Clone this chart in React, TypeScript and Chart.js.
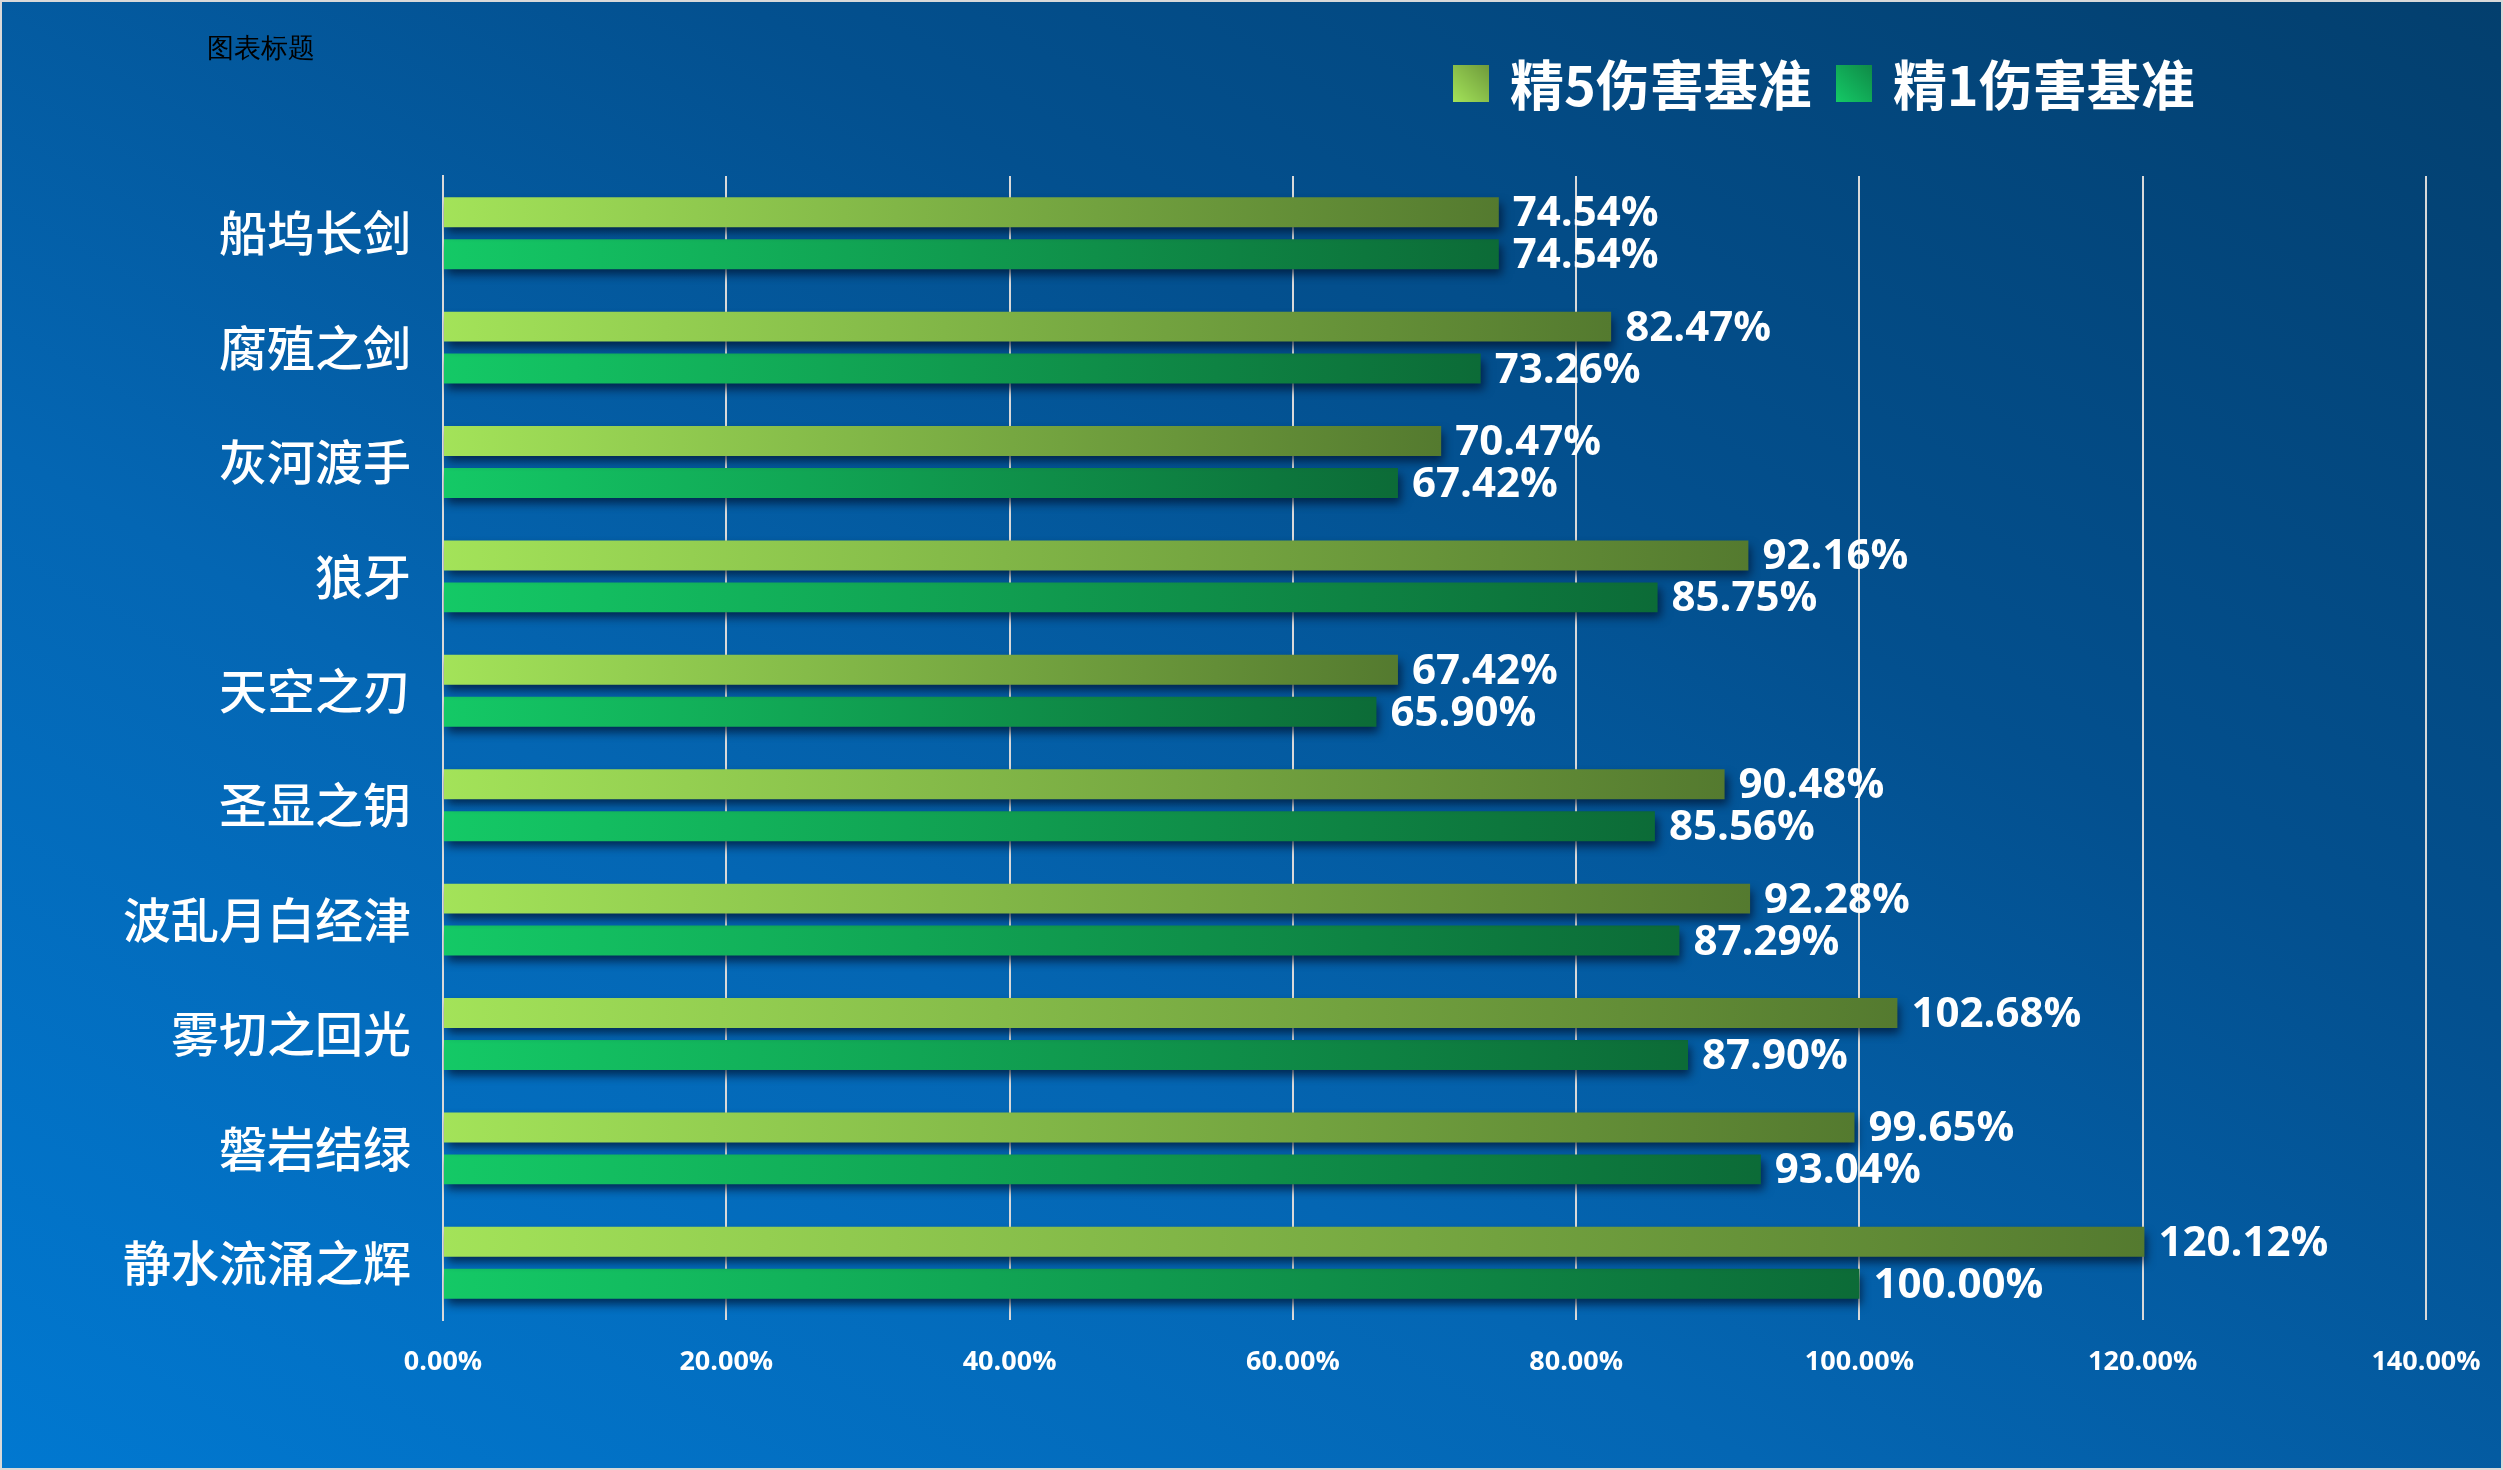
import React, { useEffect, useRef } from "react";
import { Chart, registerables } from "chart.js";

Chart.register(...registerables);

const categories = ["船坞长剑", "腐殖之剑", "灰河渡手", "狼牙", "天空之刃", "圣显之钥", "波乱月白经津", "雾切之回光", "磐岩结绿", "静水流涌之辉"];
const seriesNames = ["精5伤害基准", "精1伤害基准"];
const refine5 = [74.54, 82.47, 70.47, 92.16, 67.42, 90.48, 92.28, 102.68, 99.65, 120.12];
const refine1 = [74.54, 73.26, 67.42, 85.75, 65.9, 85.56, 87.29, 87.9, 93.04, 100.0];
const xTicks = [0, 20, 40, 60, 80, 100, 120, 140];

const W = 2503;
const H = 1470;

const gradStops = [
  ["#a3e359", "#547a2f"],
  ["#14c966", "#0c6b37"],
];

function barGradient(ctx: any, idx: number) {
  const chart = ctx.chart;
  const xs = chart.scales && chart.scales.x;
  if (!xs || ctx.type !== "data") return gradStops[idx][0];
  const v = ctx.parsed ? ctx.parsed.x : ctx.raw;
  const x0 = xs.getPixelForValue(0);
  const x1 = xs.getPixelForValue(v);
  if (!isFinite(x0) || !isFinite(x1)) return gradStops[idx][0];
  const g = chart.ctx.createLinearGradient(x0, 0, Math.max(x1, x0 + 1), 0);
  g.addColorStop(0, gradStops[idx][0]);
  g.addColorStop(1, gradStops[idx][1]);
  return g;
}

const effectsPlugin = {
  id: "effects",
  beforeDatasetsDraw(chart: any) {
    const c = chart.ctx;
    c.save();
    c.shadowColor = "rgba(0,20,50,0.75)";
    c.shadowBlur = 9;
    c.shadowOffsetX = 3;
    c.shadowOffsetY = 6;
  },
  afterDatasetsDraw(chart: any) {
    const c = chart.ctx;
    c.restore();
    c.save();
    c.fillStyle = "#ffffff";
    c.font = "bold 42px 'Open Sans', 'Noto Sans', sans-serif";
    c.textAlign = "left";
    c.textBaseline = "middle";
    chart.data.datasets.forEach((ds: any, di: number) => {
      const meta = chart.getDatasetMeta(di);
      meta.data.forEach((bar: any, i: number) => {
        const v = ds.data[i];
        c.fillText(v.toFixed(2) + "%", bar.x + 14, bar.y + 2);
      });
    });
    c.restore();
  },
};

export default function App() {
  const ref = useRef<HTMLCanvasElement | null>(null);

  useEffect(() => {
    document.body.style.margin = "0";
    if (!ref.current) return;
    const chart = new Chart(ref.current, {
      type: "bar",
      data: {
        labels: categories,
        datasets: [
          {
            label: seriesNames[0],
            data: refine5,
            backgroundColor: (ctx: any) => barGradient(ctx, 0),
            borderWidth: 0,
            barPercentage: 0.714,
            categoryPercentage: 0.733,
          },
          {
            label: seriesNames[1],
            data: refine1,
            backgroundColor: (ctx: any) => barGradient(ctx, 1),
            borderWidth: 0,
            barPercentage: 0.714,
            categoryPercentage: 0.733,
          },
        ],
      },
      options: {
        indexAxis: "y",
        animation: false,
        responsive: false,
        devicePixelRatio: 1,
        layout: { padding: { left: 0, top: 174, right: 75, bottom: 68 } },
        plugins: {
          legend: { display: false },
          title: { display: false },
          tooltip: { enabled: false },
        },
        scales: {
          x: {
            type: "linear",
            min: 0,
            max: 140,
            afterBuildTicks: (scale: any) => {
              scale.ticks = xTicks.map((v) => ({ value: v }));
            },
            afterFit: (scale: any) => {
              scale.height = 80;
              scale.paddingLeft = 0;
              scale.paddingRight = 0;
            },
            grid: { color: "#d9d9d9", lineWidth: 2, drawTicks: false },
            border: { display: false },
            ticks: {
              color: "#ffffff",
              padding: 26,
              font: { family: "'Open Sans', 'Noto Sans', sans-serif", size: 27, weight: "bold" },
              callback: (v: any) => Number(v).toFixed(2) + "%",
            },
          },
          y: {
            afterFit: (scale: any) => {
              scale.width = 441;
              scale.paddingTop = 0;
              scale.paddingBottom = 0;
            },
            grid: { display: false, drawTicks: false },
            border: { display: true, color: "#d9d9d9", width: 2 },
            ticks: {
              color: "#ffffff",
              padding: 32,
              font: { family: "'Noto Sans CJK SC', sans-serif", size: 48, weight: "500" },
            },
          },
        },
      },
      plugins: [effectsPlugin],
    } as any);
    return () => chart.destroy();
  }, []);

  const legendText: React.CSSProperties = {
    color: "#ffffff",
    fontFamily: "'Noto Sans CJK SC', sans-serif",
    fontWeight: 700,
    fontSize: 54,
    lineHeight: "62px",
    whiteSpace: "nowrap",
  };
  const box = (a: string, b: string): React.CSSProperties => ({
    width: 36,
    height: 37,
    background: `linear-gradient(45deg, ${a}, ${b})`,
    marginRight: 21,
    flex: "none",
  });

  return (
    <div
      style={{
        position: "absolute",
        left: 0,
        top: 0,
        width: W,
        height: H,
        boxSizing: "border-box",
        border: "2px solid #d9d9d9",
        background: "linear-gradient(30deg, #0178d0 0%, #0466b3 35%, #03508f 65%, #033f6e 100%)",
        overflow: "hidden",
      }}
    >
      <canvas ref={ref} width={W - 4} height={H - 4} style={{ position: "absolute", left: 0, top: 0, width: W - 4, height: H - 4 }} />
      <div
        style={{
          position: "absolute",
          left: 205,
          top: 28,
          fontFamily: "serif",
          fontSize: 27,
          color: "#000000",
          lineHeight: "36px",
        }}
      >
        图表标题
      </div>
      <div style={{ position: "absolute", left: 1451, top: 50, display: "flex", alignItems: "center" }}>
        <div style={box("#a3e359", "#6f9a3b")} />
        <div style={{ ...legendText, marginRight: 24 }}>{seriesNames[0]}</div>
        <div style={box("#14c966", "#0f8a47")} />
        <div style={legendText}>{seriesNames[1]}</div>
      </div>
    </div>
  );
}
